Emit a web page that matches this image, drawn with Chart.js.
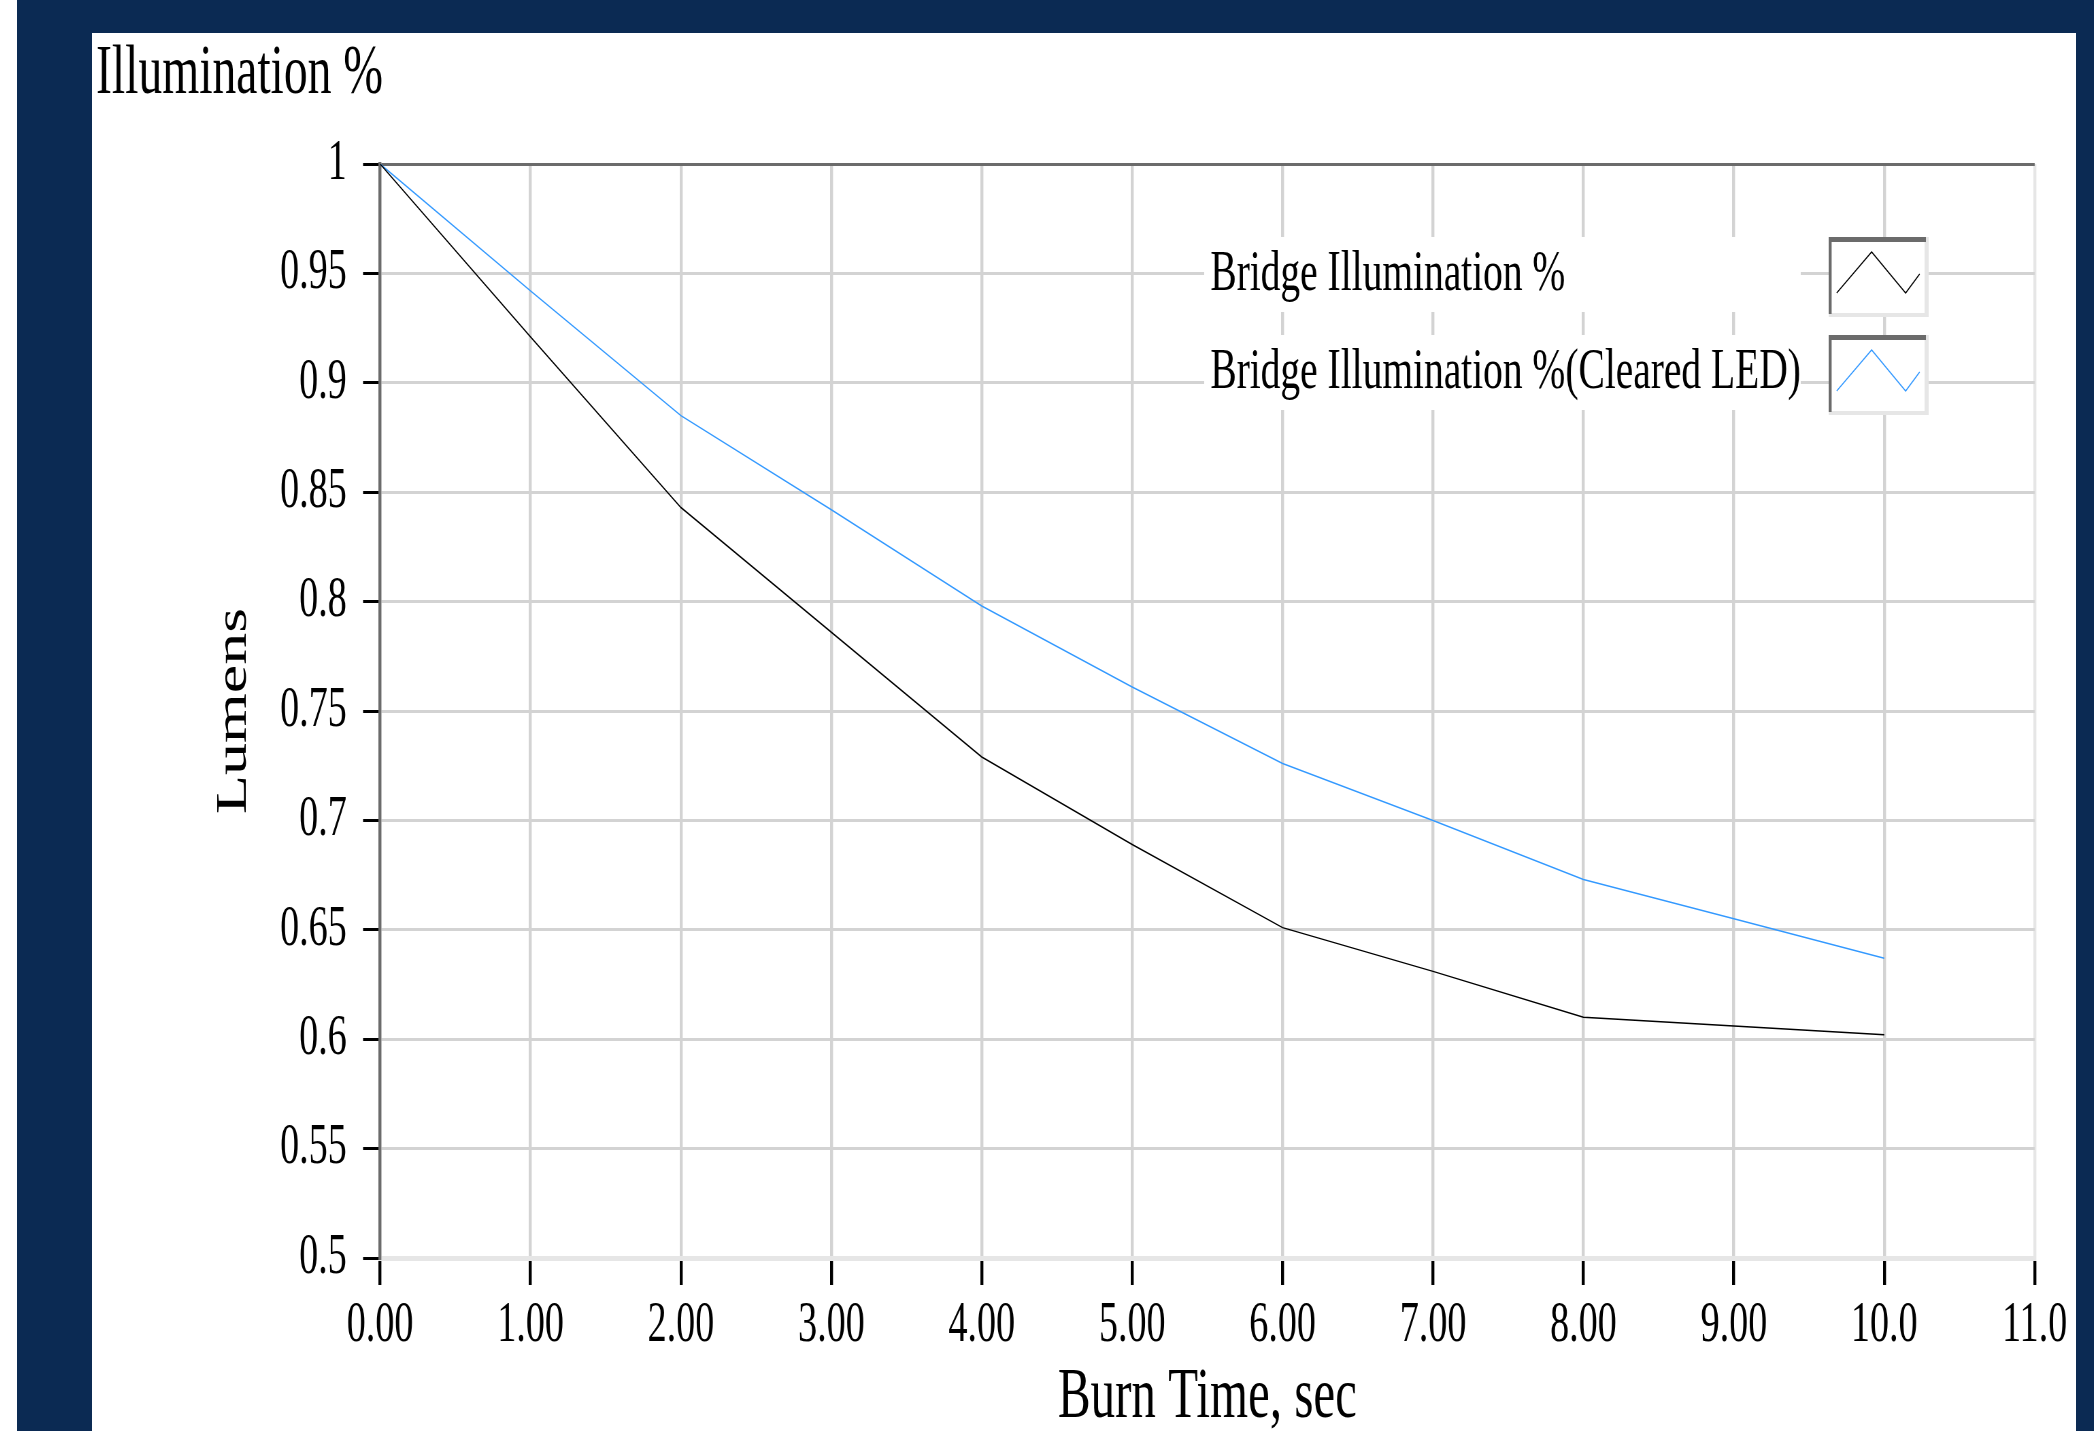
<!DOCTYPE html>
<html lang="en">
<head>
    <meta charset="UTF-8">
    <title>Illumination %</title>
    <style>
        html, body {
            margin: 0;
            padding: 0;
            width: 2094px;
            height: 1431px;
            overflow: hidden;
            background: #ffffff;
        }

        .frame {
            position: absolute;
            left: 17px;
            top: 0;
            width: 2077px;
            height: 1431px;
            background: #0b2a53; /* navy border */
        }

        .panel {
            position: absolute;
            left: 92px;
            top: 33px;
            width: 1984px;
            height: 1398px;
            background: #ffffff;
            overflow: hidden;
        }

        /* the original text is tall and narrow, so the chart is drawn wider and squeezed */
        .squeeze {
            width: 2917.6px;
            height: 1398px;
            transform: scaleX(0.68);
            transform-origin: 0 0;
        }
    </style>
    <script src="https://cdn.jsdelivr.net/npm/chart.js"></script>
</head>
<body>
    <div class="frame"></div>
    <div class="panel">
        <div class="squeeze">
            <canvas id="lumens-chart"></canvas>
        </div>
    </div>

    <script>
        const burnTime = [0, 1, 2, 3, 4, 5, 6, 7, 8, 9, 10];
        const bridgeIllum = [1, 0.921, 0.843, 0.786, 0.729, 0.689, 0.651, 0.631, 0.610, 0.606, 0.602];
        const clearedLed = [1, 0.942, 0.885, 0.842, 0.798, 0.761, 0.726, 0.700, 0.673, 0.655, 0.637];
        const xTickLabels = ['0.00', '1.00', '2.00', '3.00', '4.00', '5.00', '6.00', '7.00', '8.00', '9.00', '10.0', '11.0'];
        const yTickLabels = ['0.5', '0.55', '0.6', '0.65', '0.7', '0.75', '0.8', '0.85', '0.9', '0.95', '1'];

        const serif = 'Liberation Serif';

        function points(ys) {
            return burnTime.map((t, i) => ({ x: t, y: ys[i] }));
        }

        // legend: label on a white strip, then a framed zigzag sample
        const boxLegend = {
            id: 'boxLegend',
            afterDatasetsDraw(chart) {
                const ctx = chart.ctx;
                ctx.save();
                chart.data.datasets.forEach((ds, i) => {
                    const top = 204 + i * 98;
                    ctx.fillStyle = '#ffffff';
                    ctx.fillRect(1635, top, 877, 75);

                    ctx.fillStyle = '#000000';
                    ctx.font = '58px "' + serif + '"';
                    ctx.textAlign = 'left';
                    ctx.textBaseline = 'middle';
                    ctx.fillText(ds.label, 1644, top + 38);

                    const bx = 2553, bw = 147, bh = 80;
                    ctx.fillStyle = '#ffffff';
                    ctx.fillRect(bx, top, bw, bh);
                    ctx.fillStyle = '#e6e6e6';
                    ctx.fillRect(bx + bw - 6, top, 6, bh);
                    ctx.fillRect(bx, top + bh - 4, bw, 4);
                    ctx.fillStyle = '#6b6b6b';
                    ctx.fillRect(bx, top, bw - 4, 5);
                    ctx.fillRect(bx, top, 4.4, bh - 3);

                    ctx.strokeStyle = ds.borderColor;
                    ctx.lineWidth = 1.5;
                    ctx.beginPath();
                    ctx.moveTo(bx + 11.8, top + 56);
                    ctx.lineTo(bx + 63.2, top + 15);
                    ctx.lineTo(bx + 113.2, top + 56);
                    ctx.lineTo(bx + 133.8, top + 37);
                    ctx.stroke();
                });
                ctx.restore();
            }
        };

        const ctx = document.getElementById('lumens-chart').getContext('2d');
        new Chart(ctx, {
            type: 'line',
            data: {
                datasets: [
                    {
                        label: 'Bridge Illumination %',
                        data: points(bridgeIllum),
                        borderColor: '#000000',
                        borderWidth: 1.5,
                        pointRadius: 0,
                        tension: 0
                    },
                    {
                        label: 'Bridge Illumination %(Cleared LED)',
                        data: points(clearedLed),
                        borderColor: '#3399ff',
                        borderWidth: 1.5,
                        pointRadius: 0,
                        tension: 0
                    }
                ]
            },
            options: {
                responsive: true,
                maintainAspectRatio: false,
                animation: false,
                devicePixelRatio: 1,
                layout: {
                    padding: { left: 6, right: 61.7, top: 0, bottom: 0 }
                },
                scales: {
                    x: {
                        type: 'linear',
                        min: 0,
                        max: 11,
                        ticks: {
                            stepSize: 1,
                            padding: 8,
                            color: '#000000',
                            font: { family: serif, size: 56 },
                            callback: (v, i) => xTickLabels[i]
                        },
                        grid: {
                            color: c => c.index === xTickLabels.length - 1 ? '#e6e6e6' : '#d3d3d3',
                            lineWidth: 4.4,
                            tickColor: '#000000',
                            tickWidth: 4.4,
                            tickLength: 27
                        },
                        border: { color: '#e6e6e6', width: 5 },
                        title: {
                            display: true,
                            text: 'Burn Time, sec',
                            color: '#000000',
                            font: { family: serif, size: 72, lineHeight: 0.9 },
                            padding: { top: 0, bottom: 0.6 }
                        },
                        afterFit: s => { s.height = 173; }
                    },
                    y: {
                        min: 0.5,
                        max: 1,
                        ticks: {
                            stepSize: 0.05,
                            padding: 24,
                            color: '#000000',
                            font: { family: serif, size: 56 },
                            callback: (v, i) => yTickLabels[i]
                        },
                        grid: {
                            color: c => c.index === yTickLabels.length - 1 ? '#6b6b6b'
                                : (c.index === 0 ? '#e6e6e6' : '#d3d3d3'),
                            lineWidth: 3,
                            tickColor: '#000000',
                            tickWidth: 3,
                            tickLength: 25
                        },
                        border: { color: '#6b6b6b', width: 4.4 },
                        title: {
                            display: true,
                            text: 'Lumens',
                            color: '#000000',
                            font: { family: serif, size: 64, lineHeight: 1 },
                            padding: { top: 170.8, bottom: 0 }
                        },
                        afterFit: s => { s.width = 417.5; }
                    }
                },
                plugins: {
                    legend: { display: false },
                    tooltip: { enabled: false },
                    title: {
                        display: true,
                        text: 'Illumination %',
                        align: 'start',
                        color: '#000000',
                        font: { family: serif, size: 70, weight: 'normal', lineHeight: 0.8 },
                        padding: { top: 14, bottom: 61 }
                    }
                }
            },
            plugins: [boxLegend]
        });
    </script>
</body>
</html>
